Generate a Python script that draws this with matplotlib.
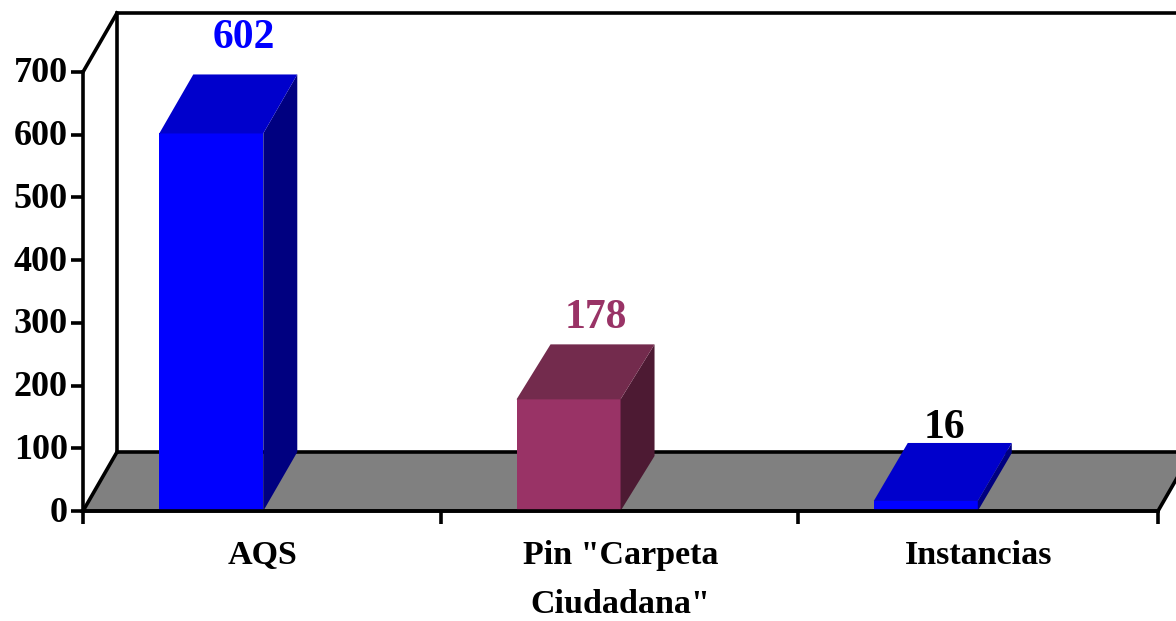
import matplotlib
matplotlib.use("Agg")
import matplotlib.pyplot as plt
from matplotlib.patches import Polygon
from matplotlib.transforms import ScaledTranslation

categories = ["AQS", 'Pin "Carpeta\nCiudadana"', "Instancias"]
values = [602, 178, 16]
value_labels = ["602", "178", "16"]
y_ticks = [0, 100, 200, 300, 400, 500, 600, 700]

W, H = 1176, 621
LEFT, RIGHT, BOTTOM, TOP = 83, 1158, 511, 72
DX_PX, DY_PX = 34, 59

front = ["#0000FF", "#993366", "#0000FF"]
roof = ["#0000CC", "#732B4D", "#0000CC"]
side = ["#000080", "#4D1A33", "#000080"]
label_colors = ["#0000FF", "#993366", "#000000"]
label_shift_px = [(33, 95), (27, 81), (19, 73)]
depth_px = [59, 55, 58]

plt.rcParams["font.family"] = ["Liberation Serif", "DejaVu Serif"]
plt.rcParams["font.weight"] = "bold"

fig = plt.figure(figsize=(W / 100, H / 100), dpi=100, facecolor="white")
ax = fig.add_axes([LEFT / W, 1 - BOTTOM / H, (RIGHT - LEFT) / W, (BOTTOM - TOP) / H])
ax.set_xlim(0, 3)
ax.set_ylim(0, 700)
ax.patch.set_visible(False)

px_x = 3 / (RIGHT - LEFT)
px_y = 700 / (BOTTOM - TOP)
dx, dy = DX_PX * px_x, DY_PX * px_y
LW = 2.6


def poly(points, fc, ec="none", z=2, lw=0):
    ax.add_patch(Polygon(points, closed=True, facecolor=fc, edgecolor=ec, lw=lw,
                         zorder=z, clip_on=False, joinstyle="miter"))


# Floor and walls
poly([(0, 0), (3, 0), (3 + dx, dy), (dx, dy)], "#808080", "black", 1, LW)
ax.plot([dx, dx, 3.2], [dy, 700 + dy, 700 + dy], color="black", lw=LW, clip_on=False,
        zorder=1, solid_joinstyle="miter")
ax.plot([0, dx], [700, 700 + dy], color="black", lw=LW, clip_on=False, zorder=1)

# Bars with depth
BAR_W = 104 * px_x
BAR_C = 0.358
BAR_STEP = 357.25 * px_x
for i, v in enumerate(values):
    cx = BAR_C + i * BAR_STEP
    x0 = cx - BAR_W / 2
    x1 = x0 + BAR_W
    d = depth_px[i] * px_y
    ax.bar(x0, v, width=BAR_W, align="edge", color=front[i], zorder=3, clip_on=False)
    poly([(x1, 0), (x1 + dx, d), (x1 + dx, v + d), (x1, v)], side[i], z=3)
    poly([(x0, v), (x1, v), (x1 + dx, v + d), (x0 + dx, v + d)], roof[i], z=3)
    ax.annotate(value_labels[i], (cx, v),
                xytext=(label_shift_px[i][0] * 0.72, label_shift_px[i][1] * 0.72),
                textcoords="offset points", ha="center", va="center", fontsize=30,
                color=label_colors[i], fontweight="bold", zorder=5, annotation_clip=False)

# Axes
for s in ("top", "right"):
    ax.spines[s].set_visible(False)
for s in ("left", "bottom"):
    ax.spines[s].set_linewidth(LW)
    ax.spines[s].set_zorder(4)
ax.set_yticks(y_ticks)
ax.set_xticks([0, 1, 1.995, 3])
ax.set_xticklabels([])
ax.set_xticks([0.5, 1.5, 2.5], categories, minor=True)
ax.tick_params(axis="y", length=9, width=LW, labelsize=26, pad=2)
ax.tick_params(axis="x", which="major", length=9, width=LW)
ax.tick_params(axis="x", which="minor", length=0, labelsize=24.5, pad=21)
up = ScaledTranslation(0, 2 / 100, fig.dpi_scale_trans)
for t in ax.get_yticklabels():
    t.set_transform(t.get_transform() + up)
for t in ax.get_xticklabels(minor=True):
    t.set_linespacing(1.75)

fig.savefig("out.png", dpi=100, facecolor="white")
